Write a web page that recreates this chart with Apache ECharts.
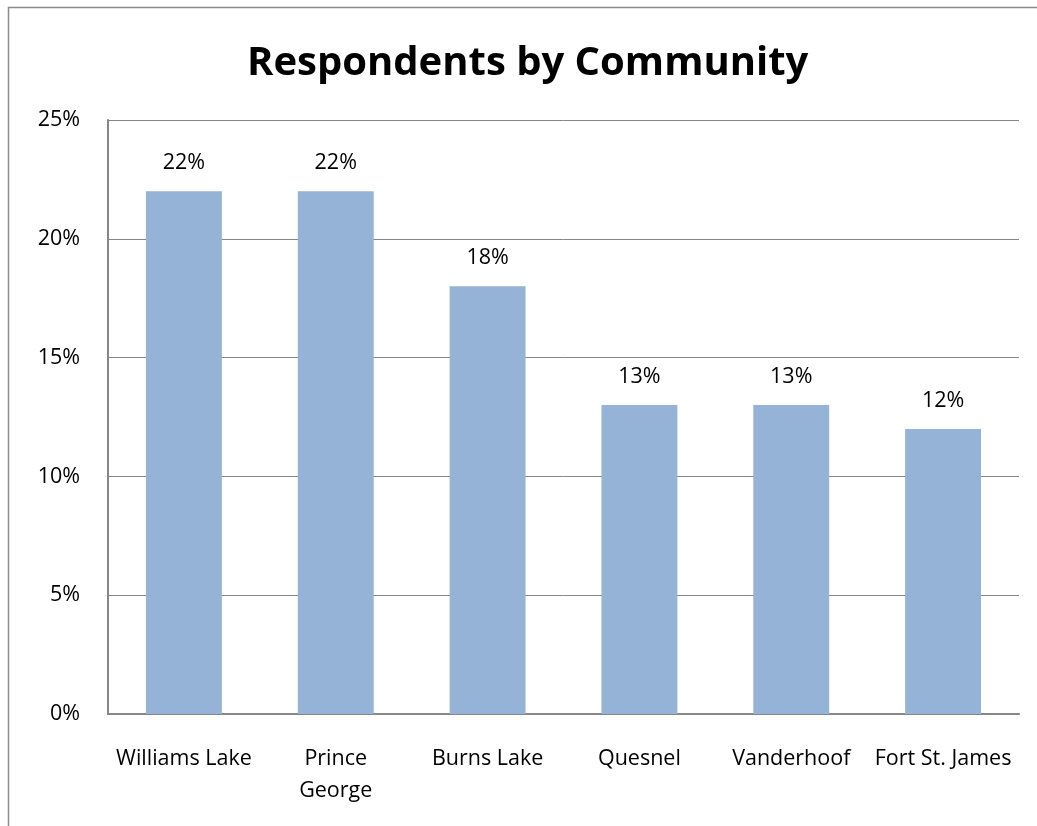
<!DOCTYPE html>
<html>
<head>
<meta charset="utf-8">
<script src="https://cdn.jsdelivr.net/npm/echarts@6/dist/echarts.min.js"></script>
<style>
  html, body { margin: 0; padding: 0; background: #fff; }
  #chart { width: 1037px; height: 826px; }
</style>
</head>
<body>
<div id="chart"></div>
<script>
// chart data
const communities = ['Williams Lake', 'Prince George', 'Burns Lake', 'Quesnel', 'Vanderhoof', 'Fort St. James'];
const shares = [22, 22, 18, 13, 13, 12];
const yTicks = [0, 5, 10, 15, 20, 25];

const chart = echarts.init(document.getElementById('chart'));
const font = 'Open Sans, Liberation Sans, sans-serif';

chart.setOption({
  animation: false,
  // outer chart frame (right and bottom edges fall outside the picture)
  graphic: [{
    type: 'rect',
    shape: { x: 8.5, y: 7.5, width: 1100, height: 900 },
    style: { fill: 'none', stroke: '#8c8c8c', lineWidth: 1.5 },
    silent: true
  }],
  title: {
    text: 'Respondents by Community',
    left: 242,
    top: 39,
    textStyle: { fontFamily: font, fontSize: 40, fontWeight: 'bold', color: '#000' }
  },
  grid: { left: 108, right: 18, top: 120, bottom: 112 },
  xAxis: {
    type: 'category',
    data: communities,
    axisLine: { lineStyle: { color: '#868686', width: 2 } },
    axisTick: { show: false },
    axisLabel: {
      color: '#000',
      fontFamily: font,
      fontSize: 21.5,
      margin: 29,
      lineHeight: 32,
      interval: 0,
      formatter: v => v === 'Prince George' ? 'Prince\nGeorge' : v
    }
  },
  yAxis: {
    type: 'value',
    min: yTicks[0],
    max: yTicks[yTicks.length - 1],
    interval: 5,
    axisLine: { show: true, lineStyle: { color: '#868686', width: 2 } },
    axisTick: { show: false },
    splitLine: { lineStyle: { color: '#868686', width: 1 } },
    axisLabel: {
      color: '#000',
      fontFamily: font,
      fontSize: 21.5,
      margin: 28,
      formatter: '{value}%'
    }
  },
  series: [{
    type: 'bar',
    data: shares,
    barWidth: '50%',
    itemStyle: { color: '#95b3d7' },
    label: {
      show: true,
      position: 'top',
      distance: 17,
      color: '#000',
      fontFamily: font,
      fontSize: 21.5,
      formatter: '{c}%'
    }
  }]
});
</script>
</body>
</html>
